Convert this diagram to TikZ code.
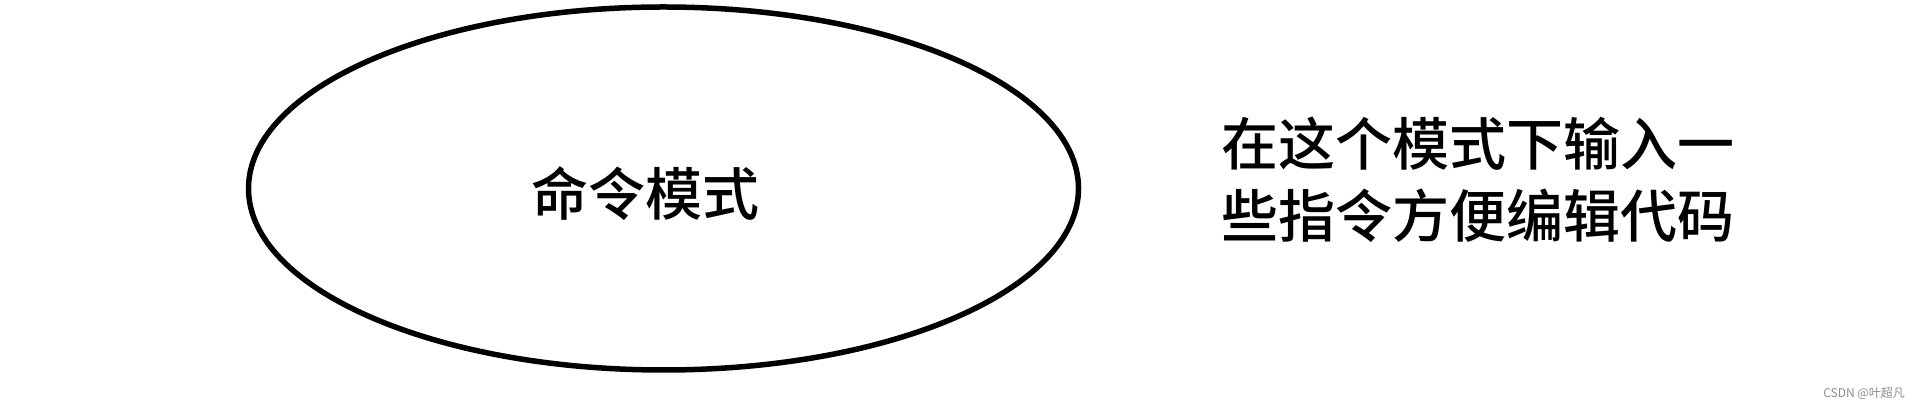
\documentclass[tikz,border=0pt]{standalone}
\usepackage{fontspec}
\newfontfamily\cjk{Noto Sans CJK SC}[BoldFont={Noto Sans CJK SC Medium}]
\usetikzlibrary{shapes.geometric}

\tikzset{
  modeshape/.style={ellipse,draw,line width=5.5pt,inner sep=0pt,outer sep=0pt,
    minimum width=830pt,minimum height=363pt},
  bigtext/.style={inner sep=0pt,font=\cjk\bfseries\fontsize{57pt}{72pt}\selectfont},
  marktext/.style={inner sep=0pt,text=black!45,font=\cjk\fontsize{12pt}{14pt}\selectfont}
}

\begin{document}
\begin{tikzpicture}[x=1pt,y=1pt]
        \useasboundingbox (0,0) rectangle (1929,411);

        \node[modeshape] (mode) at (663.5,222.5) {};
        \node[bigtext] (modename) at (645,217) {命令模式};

        \begin{scope}[every node/.style={bigtext}]
          \node (line1) at (1478,267) {在这个模式下输入一};
          \node (line2) at (1478,195.5) {些指令方便编辑代码};
        \end{scope}

        \node[marktext] (mark) at (1864,17) {CSDN @叶超凡};

      \end{tikzpicture}
\end{document}
